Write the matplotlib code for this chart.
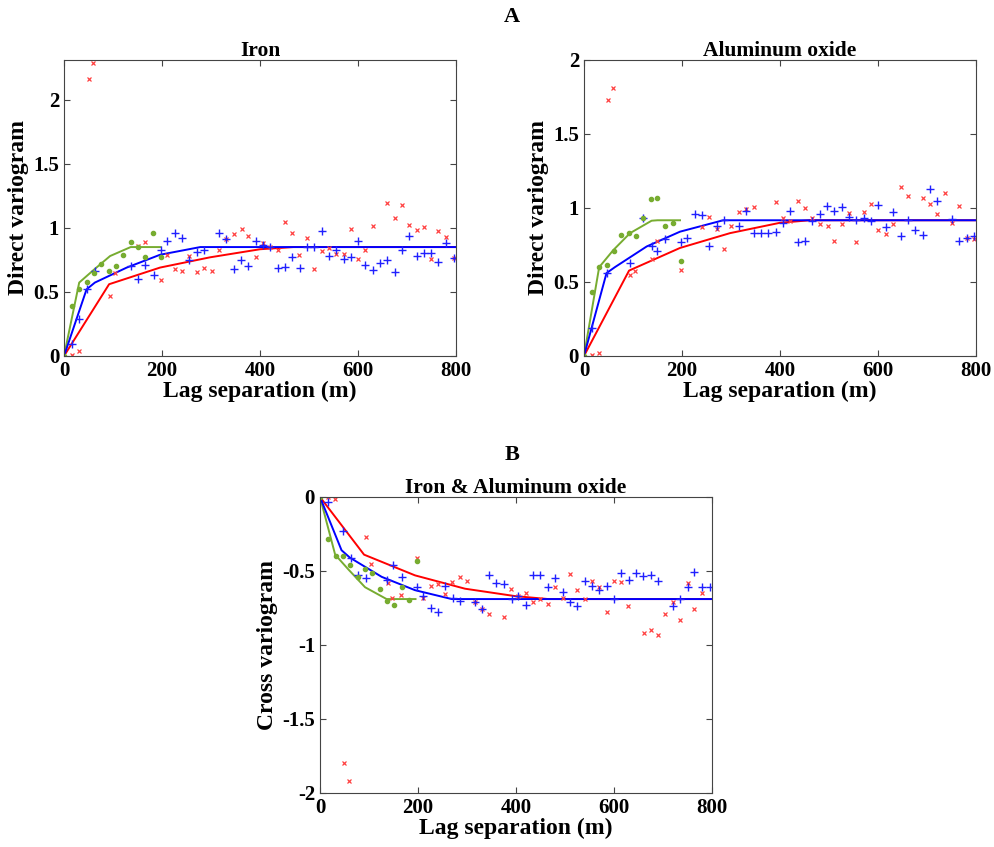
import matplotlib.pyplot as plt

plt.rcParams['font.family'] = ['Liberation Serif', 'DejaVu Serif']
plt.rcParams['font.weight'] = 'bold'

# ---- Iron: experimental points ----
iron_red_lag = [16, 31, 50, 60, 94, 104, 150, 165, 197, 211, 226, 241, 256, 271, 286, 301, 316, 331, 346,
                363, 376, 391, 406, 421, 436, 451, 465, 480, 496, 511, 526, 541, 556, 571, 585, 600, 615,
                630, 660, 675, 689, 704, 720, 734, 749, 764, 780, 796]
iron_red_val = [0.005, 0.036, 2.16, 2.29, 0.47, 0.65, 0.86, 0.89, 0.59, 0.79, 0.68, 0.667, 0.78, 0.656, 0.69,
                0.667, 0.83, 0.914, 0.95, 0.99, 0.94, 0.77, 0.88, 0.85, 0.83, 1.044, 0.958, 0.786, 0.917,
                0.68, 0.82, 0.844, 0.794, 0.794, 0.99, 0.758, 0.83, 1.013, 1.19, 1.078, 1.177, 1.02, 0.984,
                1.008, 0.753, 0.974, 0.93, 0.766]
iron_blue_lag = [16, 31, 46, 63, 136, 150, 166, 184, 197, 211, 226, 241, 256, 271, 286, 316, 331, 346, 361,
                 376, 391, 406, 421, 436, 451, 466, 481, 496, 511, 526, 541, 556, 571, 585, 600, 615, 630,
                 645, 660, 675, 689, 704, 720, 734, 749, 764, 780, 796]
iron_blue_val = [0.096, 0.29, 0.52, 0.667, 0.70, 0.60, 0.71, 0.63, 0.83, 0.90, 0.956, 0.92, 0.75, 0.81, 0.83,
                 0.96, 0.914, 0.68, 0.75, 0.70, 0.90, 0.87, 0.85, 0.685, 0.695, 0.776, 0.685, 0.85, 0.85,
                 0.977, 0.78, 0.83, 0.755, 0.776, 0.896, 0.708, 0.674, 0.724, 0.747, 0.654, 0.828, 0.935,
                 0.78, 0.80, 0.80, 0.73, 0.885, 0.763]
iron_green_lag = [0, 17, 31, 46, 61, 76, 91, 106, 121, 136, 150, 166, 182, 197]
iron_green_val = [0, 0.39, 0.52, 0.58, 0.646, 0.716, 0.667, 0.70, 0.79, 0.89, 0.85, 0.77, 0.96, 0.776]
# Iron: fitted models
iron_red_fit_x = [0, 92, 196, 298, 400, 468, 800]
iron_red_fit_y = [0, 0.56, 0.69, 0.77, 0.833, 0.85, 0.85]
iron_blue_fit_x = [0, 46, 63, 128, 196, 278, 800]
iron_blue_fit_y = [0, 0.52, 0.573, 0.69, 0.79, 0.85, 0.85]
iron_green_fit_x = [0, 31, 60, 94, 136, 197]
iron_green_fit_y = [0, 0.573, 0.67, 0.78, 0.85, 0.85]

# ---- Aluminum oxide ----
al_red_lag = [16, 31, 50, 60, 94, 104, 138, 150, 197, 241, 256, 271, 286, 301, 316, 331, 346, 391, 406, 421,
              436, 451, 466, 481, 497, 511, 526, 541, 556, 571, 586, 601, 616, 631, 646, 661, 691, 706,
              721, 736, 751, 766, 781, 796]
al_red_val = [0.005, 0.018, 1.73, 1.81, 0.55, 0.574, 0.655, 0.78, 0.58, 0.87, 0.94, 0.86, 0.725, 0.88, 0.975,
              0.99, 1.01, 1.04, 0.935, 0.91, 1.05, 1.0, 0.93, 0.89, 0.876, 0.78, 0.89, 0.966, 0.77, 0.97,
              1.03, 0.854, 0.824, 0.89, 1.14, 1.08, 1.07, 1.03, 0.96, 1.10, 0.896, 1.016, 0.80, 0.79]
al_blue_lag = [17, 46, 94, 121, 138, 150, 166, 197, 211, 226, 241, 256, 271, 286, 316, 331, 346, 361, 376,
               391, 406, 421, 436, 451, 466, 481, 496, 511, 526, 541, 556, 571, 586, 601, 616, 631, 646,
               661, 676, 691, 706, 721, 751, 766, 781, 796]
al_blue_val = [0.19, 0.56, 0.63, 0.93, 0.745, 0.71, 0.79, 0.77, 0.80, 0.957, 0.95, 0.745, 0.88, 0.917, 0.88,
               0.98, 0.83, 0.83, 0.83, 0.84, 0.90, 0.98, 0.77, 0.78, 0.91, 0.96, 1.016, 0.98, 1.01, 0.937,
               0.917, 0.935, 0.91, 1.02, 0.87, 0.97, 0.81, 0.917, 0.85, 0.82, 1.126, 1.05, 0.923, 0.78,
               0.80, 0.81]
al_green_lag = [0, 17, 31, 46, 61, 76, 91, 106, 121, 136, 150, 166, 182, 197]
al_green_val = [0, 0.43, 0.60, 0.615, 0.71, 0.82, 0.83, 0.81, 0.93, 1.06, 1.07, 0.88, 0.90, 0.64]
al_red_fit_x = [0, 92, 196, 298, 400, 461, 800]
al_red_fit_y = [0, 0.577, 0.73, 0.83, 0.90, 0.917, 0.917]
al_blue_fit_x = [0, 46, 63, 128, 196, 284, 800]
al_blue_fit_y = [0, 0.56, 0.60, 0.74, 0.84, 0.917, 0.917]
al_green_fit_x = [0, 31, 60, 94, 138, 150, 196]
al_green_fit_y = [0, 0.60, 0.716, 0.83, 0.914, 0.917, 0.917]

# ---- Iron & Aluminum oxide (cross) ----
cr_red_lag = [16, 31, 50, 59, 93, 104, 138, 148, 165, 197, 211, 226, 241, 256, 270, 286, 300, 316, 330, 345,
              376, 390, 405, 420, 435, 450, 465, 480, 496, 510, 525, 540, 555, 570, 586, 600, 615, 629,
              661, 675, 690, 704, 720, 735, 750, 764, 779]
cr_red_val = [0.0, -0.016, -1.80, -1.92, -0.27, -0.455, -0.58, -0.68, -0.66, -0.41, -0.68, -0.60, -0.585,
              -0.655, -0.574, -0.54, -0.57, -0.71, -0.76, -0.79, -0.81, -0.62, -0.67, -0.65, -0.71, -0.69,
              -0.72, -0.61, -0.68, -0.52, -0.63, -0.69, -0.57, -0.606, -0.78, -0.565, -0.577, -0.74, -0.92,
              -0.90, -0.93, -0.79, -0.71, -0.83, -0.58, -0.76, -0.65]
cr_blue_lag = [17, 46, 63, 77, 94, 137, 150, 167, 199, 211, 226, 241, 256, 271, 286, 316, 330, 345, 360, 375,
               392, 405, 420, 435, 450, 465, 480, 495, 510, 525, 540, 555, 570, 585, 600, 615, 630, 645,
               660, 675, 690, 720, 735, 751, 763, 780, 795]
cr_blue_val = [-0.036, -0.23, -0.41, -0.53, -0.55, -0.56, -0.46, -0.54, -0.61, -0.67, -0.75, -0.78, -0.60,
               -0.68, -0.70, -0.71, -0.76, -0.53, -0.58, -0.59, -0.69, -0.67, -0.73, -0.525, -0.525, -0.606,
               -0.545, -0.64, -0.71, -0.74, -0.57, -0.60, -0.63, -0.60, -0.69, -0.516, -0.56, -0.513,
               -0.536, -0.525, -0.567, -0.74, -0.69, -0.61, -0.51, -0.61, -0.61]
cr_green_lag = [0, 17, 32, 47, 62, 77, 92, 107, 122, 137, 152, 167, 182, 197]
cr_green_val = [0, -0.286, -0.40, -0.40, -0.46, -0.54, -0.49, -0.516, -0.62, -0.70, -0.73, -0.61, -0.696, -0.43]
cr_red_fit_x = [0, 90, 194, 296, 398, 466, 800]
cr_red_fit_y = [0, -0.39, -0.53, -0.62, -0.67, -0.69, -0.69]
cr_blue_fit_x = [0, 44, 61, 126, 194, 269, 800]
cr_blue_fit_y = [0, -0.36, -0.41, -0.54, -0.63, -0.69, -0.69]
cr_green_fit_x = [0, 31, 58, 92, 136, 195]
cr_green_fit_y = [0, -0.39, -0.49, -0.61, -0.69, -0.69]

RED = '#ff0000'
BLUE = '#0000ff'
GREEN = '#77ac30'


def panel(ax, title, ylabel, ylim, yticks, yticklabels, pts, fits):
    (rl, rv), (bl, bv), (gl, gv) = pts
    (rfx, rfy), (bfx, bfy), (gfx, gfy) = fits
    ax.plot(rfx, rfy, '-', color=RED, lw=1.4)
    ax.plot(gfx, gfy, '-', color=GREEN, lw=1.4)
    ax.plot(bfx, bfy, '-', color=BLUE, lw=1.4)
    ax.plot(rl, rv, 'x', color='#ff4040', ms=3.5, mew=0.9, ls='none')
    ax.plot(bl, bv, '+', color='#2020ff', ms=6, mew=1.0, ls='none')
    ax.plot(gl, gv, 'o', color=GREEN, ms=3, ls='none')
    ax.set_xlim(0, 800)
    ax.set_ylim(*ylim)
    ax.set_xticks([0, 200, 400, 600, 800])
    ax.set_yticks(yticks)
    ax.set_yticklabels(yticklabels)
    ax.tick_params(direction='in', top=True, right=True, labelsize=15, length=4, color='#444444')
    for s in ax.spines.values():
        s.set_color('#444444')
    ax.set_title(title, fontsize=15.5, fontweight='bold', pad=3)
    ax.set_xlabel('Lag separation (m)', fontsize=17, fontweight='bold', labelpad=0)
    ax.set_ylabel(ylabel, fontsize=17, fontweight='bold', labelpad=3)


fig = plt.figure(figsize=(9.94, 8.47), dpi=100)
ax1 = fig.add_axes([0.0644, 0.5797, 0.3944, 0.3495])
ax2 = fig.add_axes([0.5875, 0.5797, 0.3944, 0.3495])
ax3 = fig.add_axes([0.3219, 0.0638, 0.3944, 0.3495])

panel(ax1, 'Iron', 'Direct variogram', (0, 2.31), [0, 0.5, 1, 1.5, 2], ['0', '0.5', '1', '1.5', '2'],
      [(iron_red_lag, iron_red_val), (iron_blue_lag, iron_blue_val), (iron_green_lag, iron_green_val)],
      [(iron_red_fit_x, iron_red_fit_y), (iron_blue_fit_x, iron_blue_fit_y),
       (iron_green_fit_x, iron_green_fit_y)])
panel(ax2, 'Aluminum oxide', 'Direct variogram', (0, 2), [0, 0.5, 1, 1.5, 2], ['0', '0.5', '1', '1.5', '2'],
      [(al_red_lag, al_red_val), (al_blue_lag, al_blue_val), (al_green_lag, al_green_val)],
      [(al_red_fit_x, al_red_fit_y), (al_blue_fit_x, al_blue_fit_y), (al_green_fit_x, al_green_fit_y)])
panel(ax3, 'Iron & Aluminum oxide', 'Cross variogram', (-2, 0), [-2, -1.5, -1, -0.5, 0],
      ['-2', '-1.5', '-1', '-0.5', '0'],
      [(cr_red_lag, cr_red_val), (cr_blue_lag, cr_blue_val), (cr_green_lag, cr_green_val)],
      [(cr_red_fit_x, cr_red_fit_y), (cr_blue_fit_x, cr_blue_fit_y), (cr_green_fit_x, cr_green_fit_y)])

fig.text(0.515, 0.98, 'A', ha='center', va='center', fontsize=16, fontweight='bold')
fig.text(0.515, 0.463, 'B', ha='center', va='center', fontsize=16, fontweight='bold')

fig.savefig('out.png', dpi=100)
